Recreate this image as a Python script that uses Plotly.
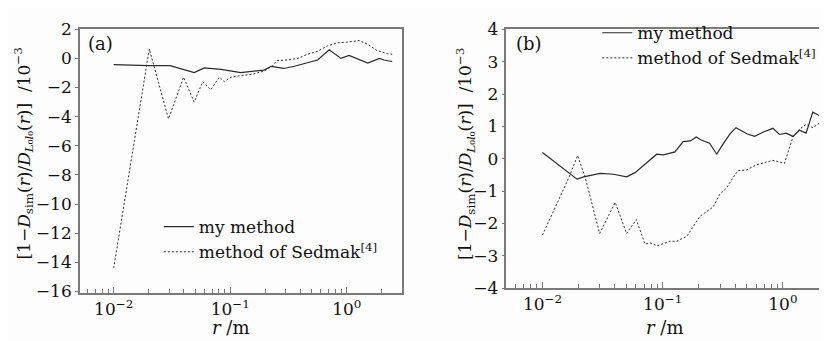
import plotly.graph_objects as go

# ---- data (r in metres, values in 1e-3) ----
a_my_r = [0.01, 0.0146, 0.02, 0.0304, 0.0491, 0.0598, 0.0832, 0.1233, 0.1585, 0.195, 0.2239, 0.257, 0.2884, 0.3548, 0.4571, 0.5623, 0.7079, 0.8128, 0.8913, 1.047, 1.23, 1.514, 1.905, 2.089, 2.455]
a_my_v = [-0.43, -0.49, -0.49, -0.49, -0.97, -0.65, -0.75, -0.97, -0.86, -0.80, -0.54, -0.65, -0.69, -0.54, -0.32, -0.11, 0.60, 0.21, 0.0, 0.21, 0.0, -0.32, 0.0, -0.11, -0.21]

a_sed_r = [0.01, 0.0202, 0.0295, 0.0398, 0.049, 0.058, 0.0682, 0.0805, 0.0891, 0.1014, 0.1233, 0.1585, 0.195, 0.2291, 0.2512, 0.309, 0.3802, 0.4571, 0.5623, 0.6823, 0.8318, 1.014, 1.276, 1.514, 1.82, 2.239, 2.455]
a_sed_v = [-14.4, 0.65, -4.15, -1.29, -3.0, -1.6, -2.15, -1.29, -1.6, -1.29, -1.18, -1.07, -0.86, -0.54, -0.15, -0.11, 0.0, 0.28, 0.49, 0.86, 1.07, 1.12, 1.23, 0.97, 0.54, 0.32, 0.28]

b_my_r = [0.01, 0.0194, 0.022, 0.0302, 0.0389, 0.0501, 0.0589, 0.0741, 0.0891, 0.1014, 0.1265, 0.1479, 0.1698, 0.1905, 0.2089, 0.2455, 0.2818, 0.309, 0.3631, 0.4074, 0.5012, 0.5821, 0.6823, 0.826, 0.9376, 1.067, 1.211, 1.374, 1.56, 1.774, 2.014, 2.213, 2.512]
b_my_v = [0.19, -0.63, -0.56, -0.45, -0.48, -0.56, -0.43, -0.10, 0.14, 0.12, 0.21, 0.53, 0.55, 0.67, 0.58, 0.48, 0.14, 0.38, 0.77, 0.96, 0.77, 0.69, 0.82, 0.94, 0.75, 0.79, 0.69, 0.88, 0.79, 1.44, 1.33, 1.25, 1.39]

b_sed_r = [0.01, 0.0166, 0.0196, 0.0227, 0.0299, 0.0403, 0.0501, 0.0603, 0.0714, 0.0785, 0.0904, 0.1148, 0.1306, 0.1585, 0.2042, 0.263, 0.2985, 0.3388, 0.3855, 0.4236, 0.4966, 0.6026, 0.826, 1.033, 1.211, 1.374, 1.56, 1.774, 2.014, 2.36, 2.512]
b_sed_v = [-2.36, -0.58, 0.10, -0.58, -2.31, -1.35, -2.31, -1.88, -2.64, -2.60, -2.69, -2.55, -2.55, -2.40, -1.78, -1.49, -1.10, -0.91, -0.58, -0.37, -0.35, -0.19, -0.05, -0.14, 0.67, 0.91, 1.06, 0.96, 1.10, 0.85, 0.87]

x_tickvals = [0.01, 0.1, 1]
x_ticktext = ["10<sup>−2</sup>", "10<sup>−1</sup>", "10<sup>0</sup>"]
x_minor = [m * d for d in (0.001, 0.01, 0.1, 1) for m in range(2, 10)]
a_yticks = [2, 0, -2, -4, -6, -8, -10, -12, -14, -16]
b_yticks = [4, 3, 2, 1, 0, -1, -2, -3, -4]

names = ["my method", "method of Sedmak<sup>[4]</sup>"]

FONT = "DejaVu Serif"
LINE = "#2a2a2a"
AXC = "#7a7a7a"

fig = go.Figure()
fig.add_trace(go.Scatter(x=a_my_r, y=a_my_v, mode="lines", name=names[0],
                         line=dict(color=LINE, width=1.2), xaxis="x", yaxis="y", legend="legend"))
fig.add_trace(go.Scatter(x=a_sed_r, y=a_sed_v, mode="lines", name=names[1],
                         line=dict(color=LINE, width=1, dash="2px,2px"), xaxis="x", yaxis="y", legend="legend"))
fig.add_trace(go.Scatter(x=b_my_r, y=b_my_v, mode="lines", name=names[0],
                         line=dict(color=LINE, width=1.2), xaxis="x2", yaxis="y2", legend="legend2"))
fig.add_trace(go.Scatter(x=b_sed_r, y=b_sed_v, mode="lines", name=names[1],
                         line=dict(color=LINE, width=1, dash="2px,2px"), xaxis="x2", yaxis="y2", legend="legend2"))

W, H = 827, 341
def px(x):
    return x / W
def py(y):
    return (H - y) / H

xcommon = dict(type="log", showgrid=False, zeroline=False, showline=True, linecolor=AXC, linewidth=1.5,
               mirror=True, ticks="inside", ticklen=6, tickcolor=AXC, tickvals=x_tickvals, ticktext=x_ticktext,
               tickfont=dict(family=FONT, size=17, color="#111"),
               minor=dict(ticks="inside", ticklen=4, tickcolor=AXC, tickvals=x_minor, showgrid=False))
ycommon = dict(showgrid=False, zeroline=False, showline=True, linecolor=AXC, linewidth=1.5, mirror=True,
               ticks="outside", ticklen=3, tickcolor=AXC, tickfont=dict(family=FONT, size=17, color="#111"))

fig.update_layout(
    width=W, height=H, margin=dict(l=0, r=0, t=0, b=0),
    paper_bgcolor="#fdfdfd", plot_bgcolor="#fdfdfd",
    font=dict(family=FONT, color="#111"),
    xaxis=dict(domain=[px(72), px(394)], range=[-2.29, 0.47], anchor="y", **xcommon),
    yaxis=dict(domain=[py(292), py(12)], range=[-16.1, 2], anchor="x", tickvals=a_yticks, **ycommon),
    xaxis2=dict(domain=[px(499), px(826)], range=[-2.30, 0.417], anchor="y2", **xcommon),
    yaxis2=dict(domain=[py(287), py(12)], range=[-4, 4], anchor="x2", tickvals=b_yticks, **ycommon),
    legend=dict(x=px(151), y=py(203), xanchor="left", yanchor="top", bgcolor="rgba(0,0,0,0)",
                font=dict(family=FONT, size=17, color="#111"), tracegroupgap=0, itemwidth=30),
    legend2=dict(x=px(590), y=py(-3), xanchor="left", yanchor="top", bgcolor="rgba(0,0,0,0)",
                 font=dict(family=FONT, size=17, color="#111"), tracegroupgap=0, itemwidth=30),
    showlegend=True,
)

ytitle = "[1−<i>D</i><sub>sim</sub>(<i>r</i>)/<i>D</i><sub><i>L</i>₀<i>l</i>₀</sub>(<i>r</i>)]  /10<sup>−3</sup>"
ann = [
    dict(text="(a)", x=px(78), y=py(27), xanchor="left", yanchor="middle", font_size=18),
    dict(text="(b)", x=px(507), y=py(27), xanchor="left", yanchor="middle", font_size=18),
    dict(text="<i>r</i> /m", x=px(223), y=py(329), xanchor="center", yanchor="middle", font_size=18),
    dict(text="<i>r</i> /m", x=px(657), y=py(329), xanchor="center", yanchor="middle", font_size=18),
    dict(text=ytitle, x=px(16), y=py(144), textangle=-90, xanchor="center", yanchor="middle", font_size=17),
    dict(text=ytitle, x=px(458), y=py(144), textangle=-90, xanchor="center", yanchor="middle", font_size=17),
]
for a in ann:
    a.update(xref="paper", yref="paper", showarrow=False)
fig.update_layout(annotations=[dict(a, font=dict(family=FONT, size=a.pop("font_size"), color="#111")) for a in ann])

fig.write_html("out.html")
